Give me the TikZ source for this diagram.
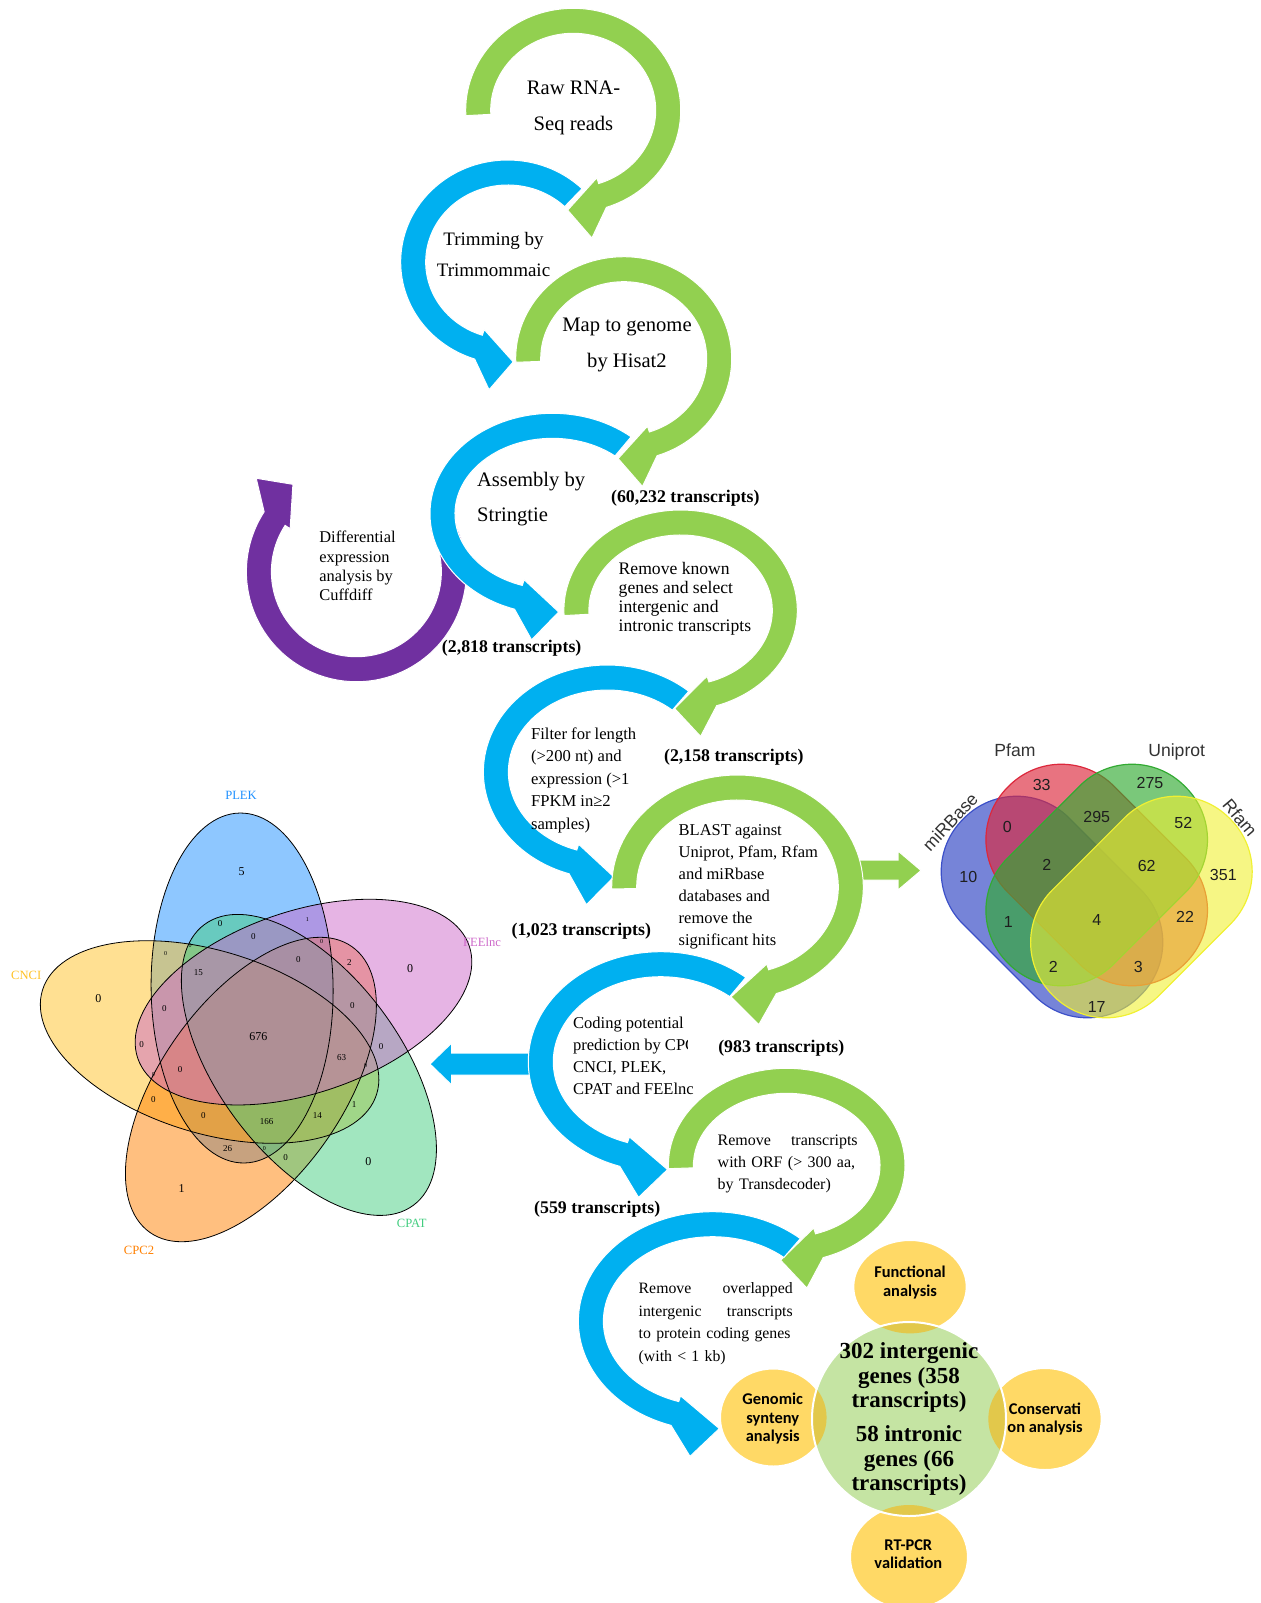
\documentclass[tikz,border=0pt]{standalone}
\usepackage{fontspec}
\setmainfont{Liberation Serif}
\newfontfamily\arialf{Liberation Sans}
\newfontfamily\calibf{Carlito}
\usepackage{tikz}
\usetikzlibrary{calc}

\definecolor{arcgreen}{RGB}{146,208,80}
\definecolor{arcblue}{RGB}{0,176,240}
\definecolor{arcpurple}{RGB}{112,48,160}
\definecolor{dodgerblue}{RGB}{30,144,255}
\definecolor{goldenrod}{RGB}{255,193,37}
\definecolor{darkorange}{RGB}{255,127,0}
\definecolor{seagreen}{RGB}{67,205,128}
\definecolor{orchid}{RGB}{205,105,201}
\definecolor{mirblue}{RGB}{60,80,200}
\definecolor{pfamred}{RGB}{220,40,60}
\definecolor{unigreen}{RGB}{50,170,50}
\definecolor{rfamyellow}{RGB}{240,240,50}
\definecolor{hubgold}{RGB}{255,217,102}
\definecolor{hubover}{RGB}{226,200,75}
\definecolor{hubgreen}{RGB}{197,228,163}

\newcommand{\flowarc}[7]{%
  \pgfmathsetmacro{\fasg}{ifthenelse(#6>#5,1,-1)}%
  \pgfmathsetmacro{\fawing}{#6+10*\fasg}%
  \pgfmathsetmacro{\fatip}{#6+21*\fasg}%
  \pgfmathsetmacro{\farxi}{#3-25}%
  \pgfmathsetmacro{\faryi}{#4-25}%
  \pgfmathsetmacro{\farxn}{#3-31}%
  \pgfmathsetmacro{\faryn}{#4-31}%
  \pgfmathsetmacro{\farxw}{#3+27}%
  \pgfmathsetmacro{\faryw}{#4+27}%
  \pgfmathsetmacro{\farxt}{#3-2}%
  \pgfmathsetmacro{\faryt}{#4-2}%
  \filldraw[fill=#7, draw=white, line width=0.5pt]
    ({#1+#3*cos(#5)},{#2+#4*sin(#5)})
    arc[start angle=#5, end angle=#6, x radius=#3, y radius=#4]
    -- ({#1+\farxw*cos(\fawing)},{#2+\faryw*sin(\fawing)})
    -- ({#1+\farxt*cos(\fatip)},{#2+\faryt*sin(\fatip)})
    -- ({#1+\farxn*cos(#6)},{#2+\faryn*sin(#6)})
    -- ({#1+\farxi*cos(#6)},{#2+\faryi*sin(#6)})
    arc[start angle=#6, end angle=#5, x radius=\farxi, y radius=\faryi]
    -- cycle;
}

\begin{document}
\begin{tikzpicture}[x=0.5pt, y=0.5pt,
  bigtxt/.style={font=\fontsize{10.3}{17.8}\selectfont, align=center, inner sep=0pt},
  steptxt/.style={font=\fontsize{8.3}{11.1}\selectfont, align=left, inner sep=0pt, anchor=west},
  counttxt/.style={font=\bfseries\fontsize{8.9}{10}\selectfont, inner sep=0pt},
  hubtxt/.style={font=\bfseries\fontsize{11.5}{12.25}\selectfont, align=center, inner sep=0pt},
  circtxt/.style={font=\calibf\bfseries\fontsize{8.2}{9.2}\selectfont, align=center, inner sep=0pt},
  pentlab/.style={font=\fontsize{6.3}{7}\selectfont, inner sep=0pt},
  vnum/.style={font=\fontsize{6}{6}\selectfont, inner sep=0pt},
  quadlab/.style={font=\arialf\fontsize{8.8}{9}\selectfont, text={rgb,255:red,50;green,50;blue,50}, inner sep=0pt},
  qnum/.style={font=\arialf\fontsize{8}{8}\selectfont, text={rgb,255:red,30;green,30;blue,30}, inner sep=0pt}]
\useasboundingbox (0,0) rectangle (1261,-1603);

\flowarc{356.4}{-571.7}{110}{110}{30}{-213}{arcpurple}
\filldraw[fill=arcblue, draw=white, line width=0.5pt] (540,-1053) -- (451.7,-1053) -- (451.7,-1043)
  -- (430,-1064) -- (451.7,-1085) -- (451.7,-1075) -- (540,-1075) -- cycle;
\filldraw[fill=arcgreen, draw=white, line width=0.5pt] (850,-860) -- (898,-860) -- (898,-851)
  -- (921,-870.5) -- (898,-890) -- (898,-880) -- (850,-880) -- cycle;

\flowarc{573.2}{-110.3}{107.5}{102}{183}{-72}{arcgreen}
\flowarc{507.7}{-262}{107}{102}{46}{252}{arcblue}
\flowarc{623.7}{-358.7}{108}{102}{182}{-72}{arcgreen}
\flowarc{552.4}{-513.7}{122.4}{100.4}{50}{252}{arcblue}
\flowarc{680.6}{-610.3}{116.7}{100.3}{183}{-72}{arcgreen}
\flowarc{607.4}{-772}{124}{107}{49}{252}{arcblue}
\flowarc{737.5}{-887}{125.8}{112}{181}{-72}{arcgreen}
\flowarc{660.7}{-1061.7}{132.4}{110}{50}{252}{arcblue}
\flowarc{786.7}{-1165.3}{118.3}{97}{182}{-72}{arcgreen}
\flowarc{712.4}{-1321.2}{134}{109.5}{49}{252}{arcblue}

\node[bigtxt] (raw) at (573.5,-108) {Raw RNA-\\Seq reads};
\node[bigtxt, font=\fontsize{9.5}{15.4}\selectfont] (trim) at (493.5,-254.7) {Trimming by\\Trimmommaic};
\node[bigtxt] (map) at (627,-345) {Map to genome\\by Hisat2};
\node[bigtxt, align=left, anchor=west] (assembly) at (476.7,-499.2) {Assembly by\\Stringtie};
\node[steptxt, font=\fontsize{8.2}{9.65}\selectfont] (diffexp) at (319,-566.2)
  {Differential\\expression\\analysis by\\Cuffdiff};
\node[steptxt, font=\fontsize{8.8}{9.6}\selectfont] (known) at (618.3,-598.8)
  {Remove known\\genes and select\\intergenic and\\intronic transcripts};
\node[steptxt, font=\fontsize{8.3}{11.25}\selectfont] (filter) at (530.7,-780)
  {Filter for length\\(>200 nt) and\\expression (>1\\FPKM in≥2\\samples)};
\node[steptxt, font=\fontsize{8.25}{11}\selectfont] (blast) at (678.3,-886.7)
  {BLAST against\\Uniprot, Pfam, Rfam\\and miRbase\\databases and\\remove the\\significant hits};
\begin{scope}
\clip (560,-1000) -- (705,-1000) -- (705,-1034) -- (687,-1034) -- (687,-1058)
  -- (705,-1058) -- (705,-1110) -- (560,-1110) -- cycle;
\node[steptxt, font=\fontsize{8.27}{10.95}\selectfont] (coding) at (572.7,-1055.5)
  {Coding potential\\prediction by CPC2,\\CNCI, PLEK,\\CPAT and FEElnc};
\end{scope}
\node[steptxt, text width=70pt, font=\fontsize{8}{11.1}\selectfont] (orf) at (717.3,-1163.8)
  {Remove\hfill transcripts\\\mbox{with ORF (> 300 aa,}\\by Transdecoder)};
\node[steptxt, text width=77pt, font=\fontsize{7.9}{11.25}\selectfont] (overlap) at (638.3,-1323.9)
  {Remove\hfill overlapped\\intergenic\hfill transcripts\\\mbox{to protein coding genes}\\(with < 1 kb)};

\node[counttxt] (c60232) at (685.3,-498) {(60,232 transcripts)};
\node[counttxt] (c2818) at (511.7,-648) {(2,818 transcripts)};
\node[counttxt] (c2158) at (733.8,-756.8) {(2,158 transcripts)};
\node[counttxt] (c1023) at (581.3,-931.7) {(1,023 transcripts)};
\node[counttxt] (c983) at (781.3,-1048.3) {(983 transcripts)};
\node[counttxt] (c559) at (597.2,-1208.8) {(559 transcripts)};

\foreach \cx/\cy/\rot/\col in {242.1/988/90.7/dodgerblue, 209.6/1042/162.7/goldenrod,
    250.9/1089.5/-125.3/darkorange, 308.9/1064.9/-53.3/seagreen, 303.5/1002.1/18.7/orchid}
  \fill[fill=\col, fill opacity=0.5, rotate around={\rot:(\cx,-\cy)}] (\cx,-\cy) ellipse[x radius=175, y radius=91];
\foreach \cx/\cy/\rot in {242.1/988/90.7, 303.5/1002.1/18.7, 308.9/1064.9/-53.3,
    250.9/1089.5/-125.3, 209.6/1042/162.7}
  \draw[line width=0.4pt, rotate around={\rot:(\cx,-\cy)}] (\cx,-\cy) ellipse[x radius=175, y radius=91];
\node[pentlab, text=dodgerblue] (plek) at (241,-795) {PLEK};
\node[pentlab, text=orchid] (feelnc) at (482,-942) {FEElnc};
\node[pentlab, text=seagreen] (cpat) at (411.7,-1223.3) {CPAT};
\node[pentlab, text=darkorange] (cpc2) at (139,-1250) {CPC2};
\node[pentlab, text=goldenrod] (cnci) at (26.3,-975) {CNCI};
\foreach \px/\py/\pv [count=\i] in {241.7/871.7/5, 410/968.3/0, 98.3/998.3/0, 368.3/1161.7/0,
    181.7/1188.3/1, 258.3/1036.7/676}
  \node[vnum] (pbig\i) at (\px,-\py) {\pv};
\foreach \px/\py/\pv [count=\i] in {198.3/972.7/15, 220/924/0, 253.3/936.7/0, 298.3/960/0,
    349.3/962.7/2, 352.3/1005.7/0, 164.3/1008.3/0, 141.7/1044.3/0, 381/1046.7/0, 341.7/1057.3/63,
    180/1070/0, 153.3/1100/0, 203.3/1116/0, 266.7/1121.7/166, 317.3/1116/14, 354/1105/1,
    227.7/1148.3/26, 285.7/1157.7/0}
  \node[vnum, font=\fontsize{4.5}{5}\selectfont] (pmid\i) at (\px,-\py) {\pv};
\foreach \px/\py/\pv [count=\i] in {307.3/920/1, 321.7/941.7/0, 165.7/954/0, 190/945.7/0,
    365.7/1066/0, 153.3/1075/0, 264.3/1148.3/0}
  \node[vnum, font=\fontsize{3}{3}\selectfont] (ptiny\i) at (\px,-\py) {\pv};

\foreach \cx/\cy/\rot/\col/\op in {1052/907/-45/mirblue/0.7, 1096.7/875/-45/pfamred/0.65,
    1096.7/875/45/unigreen/0.65, 1141.4/907/45/rfamyellow/0.6}
  \filldraw[fill=\col, fill opacity=\op, draw=\col, line width=0.6pt, rounded corners=37pt,
    rotate around={\rot:(\cx,-\cy)}] (\cx-125,-\cy-75) rectangle (\cx+125,-\cy+75);
\node[quadlab] (pfam) at (1015,-750) {Pfam};
\node[quadlab] (uniprot) at (1176.7,-751.7) {Uniprot};
\node[quadlab, rotate=47] (mirbase) at (950,-822) {miRBase};
\node[quadlab, rotate=-50] (rfam) at (1240,-818) {Rfam};
\foreach \px/\py/\pv [count=\i] in {1041.7/785/33, 1150/783.3/275, 1007.3/827.3/0, 1096.7/816.7/295,
    1183.3/823.3/52, 968.3/876.7/10, 1046.7/865/2, 1146.7/866/62, 1223.3/875/351, 1008.3/921.7/1,
    1096.7/920/4, 1185/916.7/22, 1053.3/966.7/2, 1138.3/966.7/3, 1096.7/1006.7/17}
  \node[qnum] (q\i) at (\px,-\py) {\pv};

\foreach \cx/\cy/\rx/\ry in {910/1286.7/56.7/46.7, 773.3/1417.5/53.3/49, 1045/1419/56.7/51, 909/1557/59/52}
  \filldraw[fill=hubgold, draw=white, line width=1pt] (\cx,-\cy) ellipse[x radius=\rx, y radius=\ry];
\fill[hubgreen] (909,-1419) circle[radius=97];
\begin{scope}
\clip (909,-1419) circle[radius=97];
\foreach \cx/\cy/\rx/\ry in {910/1286.7/56.7/46.7, 773.3/1417.5/53.3/49, 1045/1419/56.7/51, 909/1557/59/52}
  \fill[hubover] (\cx,-\cy) ellipse[x radius=\rx, y radius=\ry];
\end{scope}
\draw[white, line width=1pt] (909,-1419) circle[radius=97];
\node[hubtxt] (intergenic) at (909,-1377.5) {302 intergenic\\genes (358\\transcripts)};
\node[hubtxt] (intronic) at (909,-1460.6) {58 intronic\\genes (66\\transcripts)};
\node[circtxt] (func) at (910,-1282.5) {Functional\\analysis};
\node[circtxt] (synteny) at (772.7,-1418.9) {Genomic\\synteny\\analysis};
\node[circtxt] (conserv) at (1045,-1418.8) {Conservati\\on analysis};
\node[circtxt] (rtpcr) at (908.3,-1554.2) {RT-PCR\\validation};
\end{tikzpicture}
\end{document}
